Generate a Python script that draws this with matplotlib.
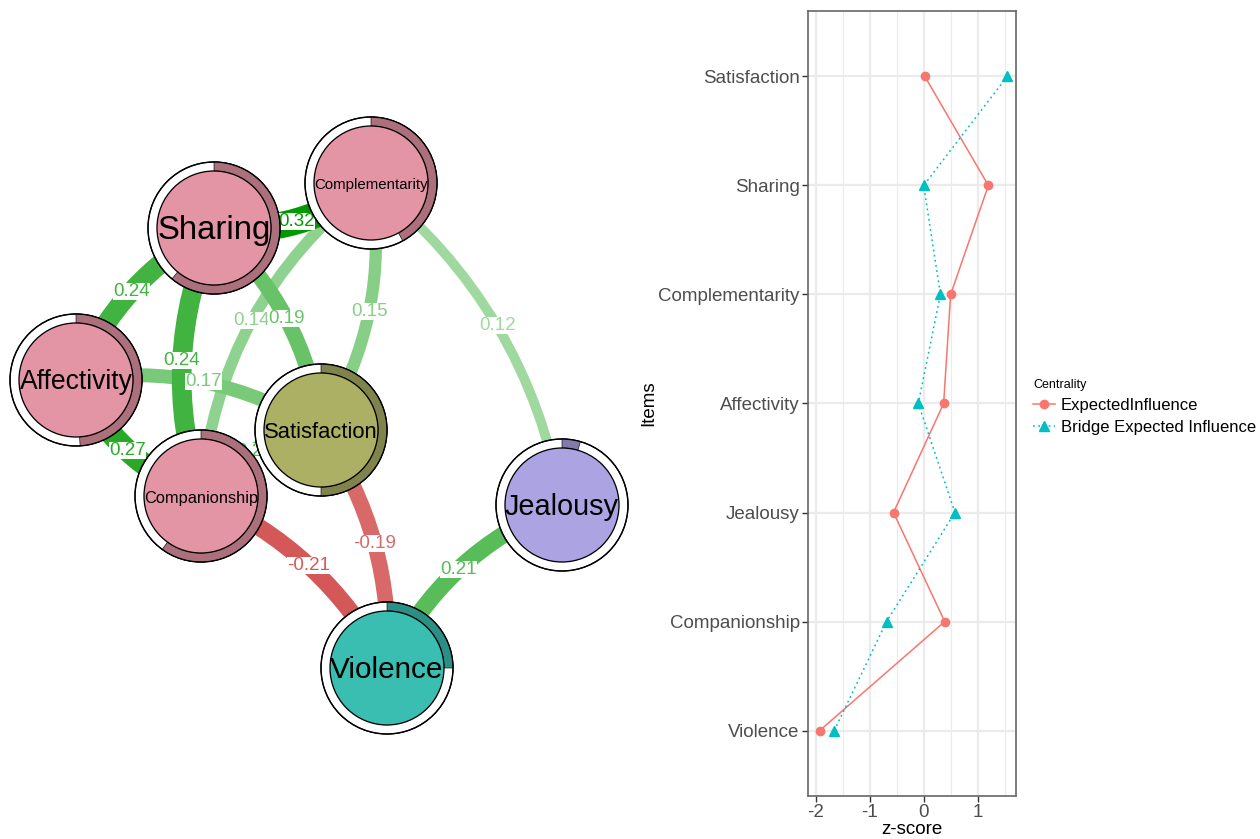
import numpy as np
import matplotlib
matplotlib.use("Agg")
import matplotlib.pyplot as plt
from matplotlib.patches import Circle, Wedge, PathPatch
from matplotlib.path import Path
from matplotlib.colors import to_rgb

plt.rcParams['font.family'] = ['Liberation Sans', 'DejaVu Sans']

# ---------------- network data ----------------
nodes = ["Sharing", "Complementarity", "Affectivity", "Satisfaction",
         "Companionship", "Jealousy", "Violence"]
# layout coordinates (figure pixel units, y grows downward)
layout_x = [214, 371, 76, 321, 201, 562, 387]
layout_y = [228, 183, 380, 430, 496, 505, 668]
node_group = [0, 0, 0, 1, 0, 2, 3]
group_colors = ["#E495A5", "#ABB065", "#ACA4E2", "#39BEB1"]
pie_values = [0.61, 0.42, 0.49, 0.50, 0.60, 0.045, 0.25]

edge_from = ["Sharing", "Sharing", "Sharing", "Sharing", "Complementarity",
             "Complementarity", "Complementarity", "Affectivity", "Affectivity",
             "Companionship", "Companionship", "Satisfaction", "Jealousy"]
edge_to = ["Complementarity", "Affectivity", "Companionship", "Satisfaction",
           "Companionship", "Satisfaction", "Jealousy", "Satisfaction",
           "Companionship", "Satisfaction", "Violence", "Violence", "Violence"]
edge_weight = [0.32, 0.24, 0.24, 0.19, 0.14, 0.15, 0.12, 0.17, 0.27,
               0.22, -0.21, -0.19, 0.21]
edge_curve = [0.1, 0.09, 0.095, -0.094, 0.11, -0.094, -0.095, -0.094,
              0.097, -0.095, -0.087, -0.086, 0.098]

# ---------------- centrality data ----------------
items = ["Violence", "Companionship", "Jealousy", "Affectivity",
         "Complementarity", "Sharing", "Satisfaction"]
expected_influence = [-1.93, 0.39, -0.56, 0.37, 0.50, 1.20, 0.02]
bridge_expected_influence = [-1.66, -0.69, 0.58, -0.10, 0.31, 0.00, 1.55]

W, H = 1260, 839
fig = plt.figure(figsize=(W / 100, H / 100), dpi=100)
PX = 0.72  # points per pixel at 100 dpi

# ================= network panel =================
NW = 640
axn = fig.add_axes([0, 0, NW / W, 1])
axn.set_xlim(0, NW)
axn.set_ylim(H, 0)
axn.set_aspect('equal')
axn.axis('off')

pos = {n: np.array([x, y], float) for n, x, y in zip(nodes, layout_x, layout_y)}
max_w = max(abs(w) for w in edge_weight)
pos_base = np.array([0, 153, 0]) / 255
neg_base = np.array([191, 0, 0]) / 255


def edge_color(w):
    a = min(1.0, abs(w) / max_w)
    base = pos_base if w > 0 else neg_base
    return tuple(1 - a * (1 - base))


def edge_width_px(w):
    return 82 * abs(w)


order = np.argsort([abs(w) for w in edge_weight])
label_items = []
for i in order:
    a = pos[edge_from[i]]
    b = pos[edge_to[i]]
    d = b - a
    L = np.hypot(*d)
    nrm = np.array([-d[1], d[0]]) / L
    mid = (a + b) / 2
    h = edge_curve[i] * L
    ctrl = mid + 2 * h * nrm
    path = Path([a, ctrl, b], [Path.MOVETO, Path.CURVE3, Path.CURVE3])
    col = edge_color(edge_weight[i])
    axn.add_patch(PathPatch(path, fill=False, edgecolor=col,
                            lw=edge_width_px(edge_weight[i]) * PX,
                            capstyle='butt', zorder=1))
    label_items.append((mid + h * nrm, edge_weight[i], col))

for (lx, ly), w, col in label_items:
    axn.text(lx, ly, f"{w:.2f}", color=col, fontsize=13.5, ha='center',
             va='center', zorder=2,
             bbox=dict(boxstyle='square,pad=0.0', fc='white', ec='none'))

R_OUT, R_IN = 66, 57
fig.canvas.draw()
renderer = fig.canvas.get_renderer()
for n, g, pv in zip(nodes, node_group, pie_values):
    c = pos[n]
    fcol = np.array(to_rgb(group_colors[g]))
    axn.add_patch(Circle(c, R_OUT, fc='white', ec='black', lw=1.3 * PX, zorder=3))
    axn.add_patch(Wedge(c, R_OUT, -90, -90 + 360 * pv, width=R_OUT - R_IN,
                        fc=fcol * 0.75, ec='black', lw=0.6 * PX, zorder=4))
    axn.add_patch(Circle(c, R_OUT, fc='none', ec='black', lw=1.3 * PX, zorder=5))
    axn.add_patch(Circle(c, R_IN, fc=fcol, ec='black', lw=1.3 * PX, zorder=5))
    t = axn.text(c[0], c[1] + 2, n, fontsize=10, ha='center', va='center',
                 color='black', zorder=6)
    wpx = t.get_window_extent(renderer).width
    t.set_fontsize(min(24.5, 10 * 114 / wpx))

# ================= centrality panel =================
L0, R0, T0, B0 = 808, 1016, 11, 796
axc = fig.add_axes([L0 / W, (H - B0) / H, (R0 - L0) / W, (B0 - T0) / H])
ypos = np.arange(1, len(items) + 1)
axc.set_xlim(-2.147, 1.713)
axc.set_ylim(0.4, len(items) + 0.6)

for xv in [-1.5, -0.5, 0.5, 1.5]:
    axc.axvline(xv, color='#EBEBEB', lw=0.8, zorder=0)
for xv in [-2, -1, 0, 1]:
    axc.axvline(xv, color='#EBEBEB', lw=1.6, zorder=0)
for yv in ypos:
    axc.axhline(yv, color='#EBEBEB', lw=1.6, zorder=0)

l1, = axc.plot(expected_influence, ypos, color='#F8766D', lw=1.1,
               marker='o', ms=6, mec='#F8766D', zorder=3,
               label='ExpectedInfluence')
l2, = axc.plot(bridge_expected_influence, ypos, color='#00BFC4', lw=1.1,
               ls=(0, (1.2, 2.2)), marker='^', ms=7.5, mec='#00BFC4',
               zorder=3, label='Bridge Expected Influence')

axc.set_xticks([-2, -1, 0, 1])
axc.set_xticklabels(['-2', '-1', '0', '1'])
axc.set_yticks(ypos)
axc.set_yticklabels(items)
axc.tick_params(axis='both', colors='#333333', labelcolor='#4D4D4D',
                labelsize=13.5, length=4, width=1, pad=2)
for sp in axc.spines.values():
    sp.set_color('#666666')
    sp.set_linewidth(1.2)
axc.set_xlabel('z-score', fontsize=13.5, labelpad=0)
axc.set_ylabel('Items', fontsize=13.5, labelpad=1)

leg = fig.legend(handles=[l1, l2], loc='upper left',
                 bbox_to_anchor=(1030 / W, 1 - 376 / H), frameon=False,
                 title='Centrality', title_fontsize=9, fontsize=12,
                 handlelength=1.3, handletextpad=0.35, labelspacing=0.4,
                 borderpad=0.2, borderaxespad=0, alignment='left')

fig.savefig('out.png', dpi=100)
